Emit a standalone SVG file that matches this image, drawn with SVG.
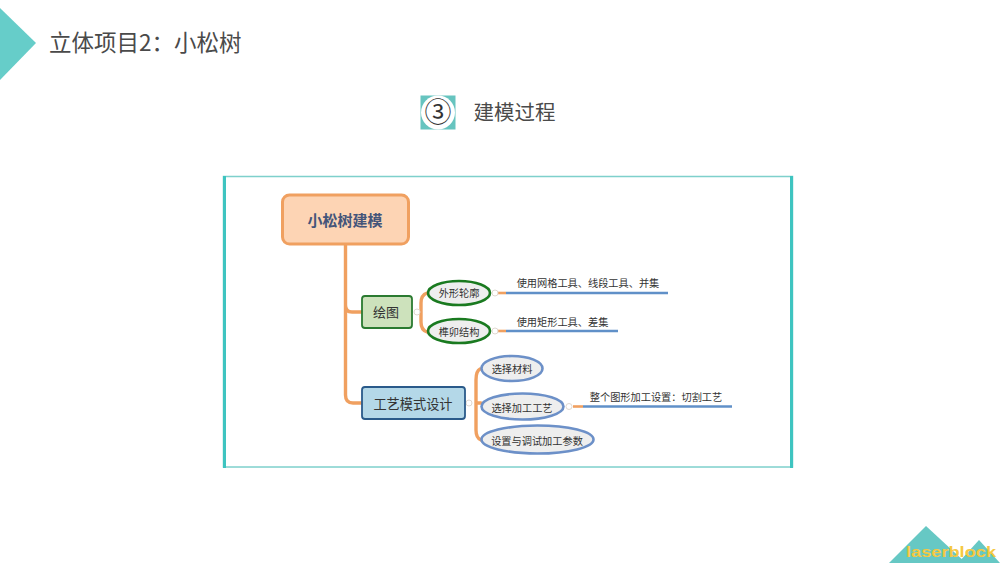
<svg xmlns="http://www.w3.org/2000/svg" width="1000" height="563" viewBox="0 0 1000 563">
<style>
text{font-family:"Noto Sans CJK SC","Noto Sans",sans-serif;fill:#333;text-anchor:middle}
.h{fill:#4a4a4a;font-size:20.500px}
.s{font-size:10.200px}
.c{fill:none;stroke:#f0a060;stroke-width:3.400;stroke-linecap:round}
.b{fill:none;stroke:#6090c8;stroke-width:2.600}
.o{fill:none;stroke:#f0a060;stroke-width:2.600}
.g{fill:#eeeeee;stroke:#1a7a20;stroke-width:2.600}
.e{fill:#eeeeee;stroke:#6c90c8;stroke-width:2.600}
.t{fill:#fff;stroke:#e0d8d0;stroke-width:1}
</style>
<rect width="1000" height="563" fill="#fff"/>
<g id="header">
<polygon points="0,8 36,43 0,80" fill="#66cdc9"/>
<text x="49" y="51" font-size="22.500" style="text-anchor:start;fill:#4a4a4a">立体项目2&#xFF1A;小松树</text>
</g>
<g id="step">
<rect x="420.500" y="95.500" width="35" height="34" fill="#66c4bf"/>
<circle cx="438" cy="112.500" r="17" fill="#fff"/>
<text x="438" y="122" font-size="27">③</text>
<text class="h" x="514.500" y="120">建模过程</text>
</g>
<g id="frame">
<rect x="223.500" y="176.500" width="569" height="290.500" fill="#fff" stroke="#7ed0cc" stroke-width="1.500"/>
<rect x="223" y="176" width="3" height="292" fill="#3ec4c0"/>
<rect x="790" y="176" width="3" height="292" fill="#3ec4c0"/>
</g>
<g id="connectors">
<path class="c" d="M345.500 244V305Q345.500 312 352 312H362M345.500 300V395Q345.500 403 353 403H362"/>
<path class="c" d="M427 293Q421 295 421 303V322Q421 330 427 332M421 312H416"/>
<path class="c" d="M480 369Q476 371 476 380V430Q476 438 481 440M476 403H481"/>
<line class="o" x1="497" y1="293" x2="506" y2="293"/><line class="b" x1="506" y1="293" x2="668" y2="293"/>
<line class="o" x1="497" y1="331" x2="506" y2="331"/><line class="b" x1="506" y1="331" x2="618" y2="331"/>
<line class="o" x1="573" y1="406.500" x2="583" y2="406.500"/><line class="b" x1="583" y1="406.500" x2="732" y2="406.500"/>
<circle class="t" cx="417" cy="312" r="3"/><circle class="t" cx="495" cy="293" r="3"/><circle class="t" cx="495" cy="331" r="3"/><circle class="t" cx="469" cy="403" r="3"/><circle class="t" cx="569" cy="406.500" r="3"/>
</g>
<g id="root">
<rect x="282.500" y="195" width="126" height="49" rx="7" fill="#fdd4b4" stroke="#f0a060" stroke-width="3"/>
<text x="345" y="226" font-size="15" font-weight="700" style="fill:#44557a">小松树建模</text>
</g>
<g id="draw">
<rect x="362" y="296" width="50" height="32" rx="3" fill="#cde2bc" stroke="#2a7a30" stroke-width="1.800"/>
<text x="386" y="317" font-size="13">绘图</text>
</g>
<g id="outline">
<ellipse cx="459" cy="293" rx="31" ry="12" class="g"/>
<text class="s" x="459" y="297">外形轮廓</text>
</g>
<g id="mortise">
<ellipse cx="459" cy="331" rx="31" ry="12" class="g"/>
<text class="s" x="459" y="335.500">榫卯结构</text>
</g>
<g id="craft">
<rect x="362" y="387" width="103" height="32" rx="3" fill="#b4d8e8" stroke="#2a5a8a" stroke-width="1.800"/>
<text x="413" y="408.500" font-size="13.200">工艺模式设计</text>
</g>
<g id="material">
<ellipse cx="512" cy="368.500" rx="30.500" ry="12.500" class="e"/>
<text class="s" x="512" y="373">选择材料</text>
</g>
<g id="process">
<ellipse cx="522.500" cy="406.500" rx="41" ry="13" class="e"/>
<text class="s" x="522" y="411.500">选择加工工艺</text>
</g>
<g id="params">
<ellipse cx="537.500" cy="439.500" rx="56" ry="14" class="e"/>
<text class="s" x="537" y="444.500">设置与调试加工参数</text>
</g>
<g id="labels">
<text class="s" x="588" y="287">使用网格工具、线段工具、并集</text>
<text class="s" x="562.500" y="326">使用矩形工具、差集</text>
<text class="s" x="656" y="401">整个图形加工设置&#xFF1A;切割工艺</text>
</g>
<g id="logo">
<polygon points="889,563 926,526 966,563" fill="#66c8c4"/>
<polygon points="958,563 979,540 1000,563" fill="#66c8c4"/>
<text x="951" y="557" font-size="15.500" font-weight="700" style="fill:#f5c842;font-family:'Liberation Sans',sans-serif" textLength="90" lengthAdjust="spacingAndGlyphs">laserblock</text>
</g>
</svg>
